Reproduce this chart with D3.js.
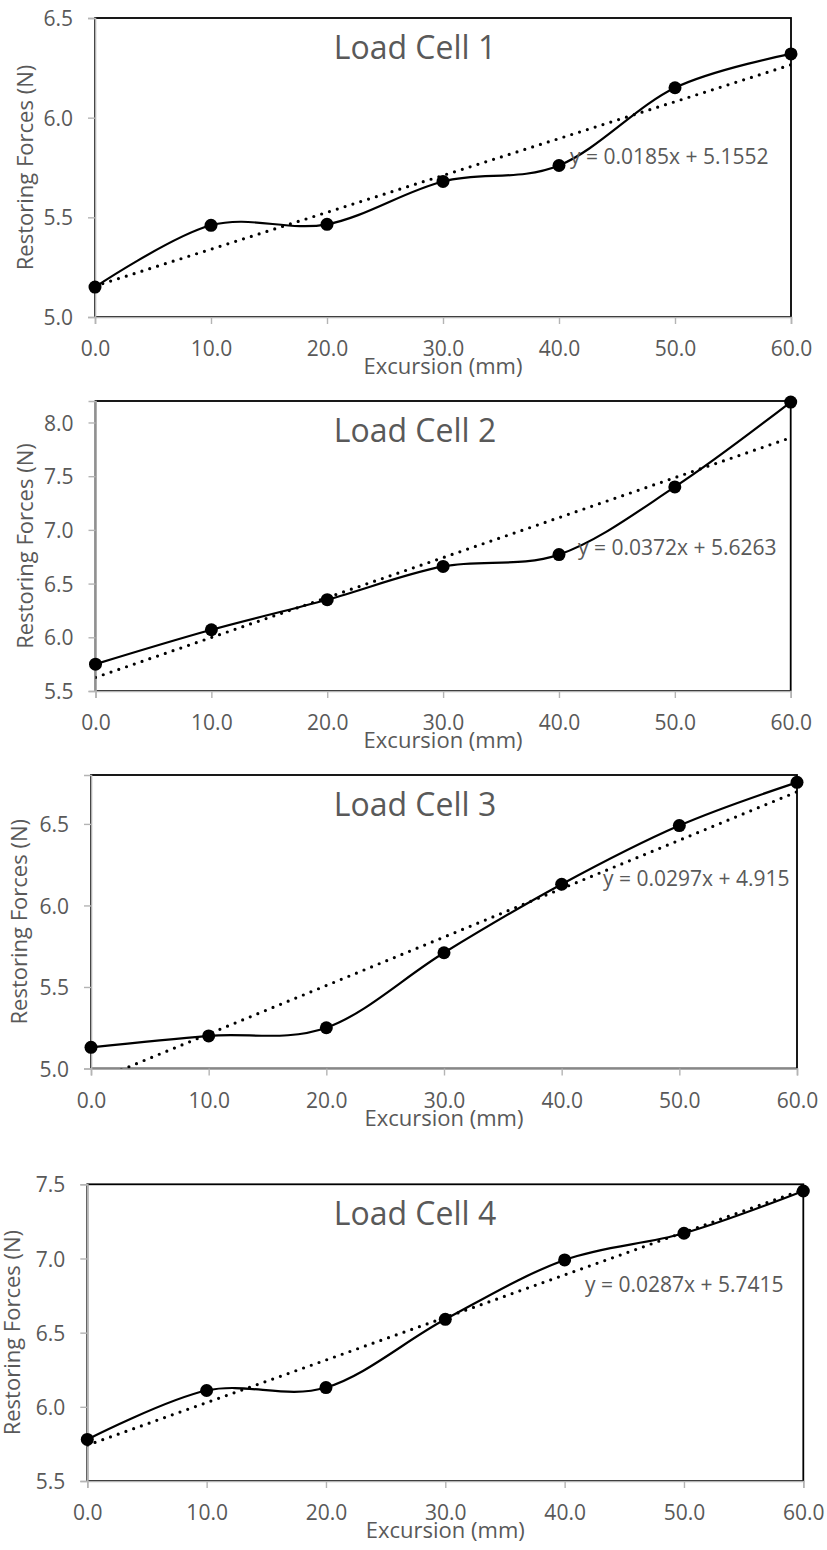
<!DOCTYPE html>
<html>
<head>
<meta charset="utf-8">
<script src="https://cdn.jsdelivr.net/npm/d3@7"></script>
<style>
  body { margin: 0; background: #fff; }
  text { font-family: "Open Sans", sans-serif; fill: #595959; }
</style>
</head>
<body>
<div id="chart"></div>
<script>
// excursion values (mm), shared by all four load cells
let excursion = [0, 10, 20, 30, 40, 50, 60];
let xTicks = [0, 10, 20, 30, 40, 50, 60];

// restoring forces (N)
let cell1 = [5.15, 5.46, 5.465, 5.68, 5.76, 6.15, 6.32];
let cell2 = [5.75, 6.07, 6.35, 6.66, 6.77, 7.40, 8.19];
let cell3 = [5.13, 5.20, 5.25, 5.71, 6.13, 6.49, 6.755];
let cell4 = [5.78, 6.11, 6.13, 6.59, 6.99, 7.17, 7.455];

let titles = ["Load Cell 1", "Load Cell 2", "Load Cell 3", "Load Cell 4"];
// linear trendlines from the labels
let slopes = [0.0185, 0.0372, 0.0297, 0.0287];
let intercepts = [5.1552, 5.6263, 4.915, 5.7415];
let equations = ["y = 0.0185x + 5.1552", "y = 0.0372x + 5.6263", "y = 0.0297x + 4.915", "y = 0.0287x + 5.7415"];

let yDomains = [[5.0, 6.5], [5.5, 8.2], [5.0, 6.8], [5.5, 7.5]];
let yTicks1 = [5.0, 5.5, 6.0, 6.5];
let yTicks2 = [5.5, 6.0, 6.5, 7.0, 7.5, 8.0];
let yTicks3 = [5.0, 5.5, 6.0, 6.5];
let yTicks4 = [5.5, 6.0, 6.5, 7.0, 7.5];

let series = [cell1, cell2, cell3, cell4];
let yTicks = [yTicks1, yTicks2, yTicks3, yTicks4];

// where each panel sits on the page
let layout = [
    {left: 95, right: 791, top: 18, bottom: 317, yTitleX: 33, eqX: 570, eqY: 156},
    {left: 95.5, right: 790.7, top: 401, bottom: 691, yTitleX: 33, eqX: 578, eqY: 547},
    {left: 91, right: 797, top: 775, bottom: 1068.5, yTitleX: 27, eqX: 603, eqY: 878},
    {left: 87.3, right: 803.3, top: 1184.3, bottom: 1481, yTitleX: 20, eqX: 585, eqY: 1284}
];

let svg = d3.select("#chart").append("svg")
    .attr("width", 827)
    .attr("height", 1550);

let fmt = d3.format(".1f");

function panel(i) {
    let L = layout[i];
    let values = series[i];
    let x = d3.scaleLinear().domain([0, 60]).range([L.left, L.right]);
    let y = d3.scaleLinear().domain(yDomains[i]).range([L.bottom, L.top]);
    let g = svg.append("g");

    g.append("clipPath").attr("id", "clip" + i)
        .append("rect")
        .attr("x", L.left).attr("y", L.top)
        .attr("width", L.right - L.left).attr("height", L.bottom - L.top);

    // plot area border
    g.append("rect")
        .attr("x", L.left).attr("y", L.top)
        .attr("width", L.right - L.left).attr("height", L.bottom - L.top)
        .attr("fill", "none").attr("stroke", "#000").attr("stroke-width", 1.8);

    // axes
    let xAxis = g.append("g")
        .attr("transform", "translate(0," + L.bottom + ")")
        .call(d3.axisBottom(x).tickValues(xTicks).tickFormat(fmt).tickSize(7).tickPadding(12));
    let yAxis = g.append("g")
        .attr("transform", "translate(" + L.left + ",0)")
        .call(d3.axisLeft(y).tickValues(yTicks[i]).tickFormat(fmt).tickSize(7).tickPadding(15));
    [xAxis, yAxis].forEach((a) => {
        a.select(".domain").attr("stroke", "#b4b4b4").attr("stroke-width", 1.6);
        a.selectAll(".tick line").attr("stroke", "#b4b4b4").attr("stroke-width", 1.4);
        a.selectAll(".tick text").attr("font-size", 21).attr("fill", "#595959")
            .style("font-family", "'Open Sans', sans-serif");
    });
    xAxis.selectAll(".tick text").attr("dy", 0).attr("y", 39);
    yAxis.selectAll(".tick text").attr("dy", "0.36em");

    // trendline
    let trend = xTicks.filter((d, k) => k == 0 || k == xTicks.length - 1)
        .map((d) => [d, slopes[i] * d + intercepts[i]]);
    g.append("path")
        .datum(trend)
        .attr("clip-path", "url(#clip" + i + ")")
        .attr("d", d3.line().x((d) => x(d[0])).y((d) => y(d[1])))
        .attr("fill", "none").attr("stroke", "#000")
        .attr("stroke-width", 3.2).attr("stroke-linecap", "round")
        .attr("stroke-dasharray", "0 8.2");

    // smoothed data line
    let pts = excursion.map((d, k) => [d, values[k]]);
    g.append("path")
        .datum(pts)
        .attr("d", d3.line().x((d) => x(d[0])).y((d) => y(d[1])).curve(d3.curveCardinal.tension(0)))
        .attr("fill", "none").attr("stroke", "#000").attr("stroke-width", 2.2);

    g.selectAll("circle").data(pts).enter()
        .append("circle")
        .attr("cx", (d) => x(d[0]))
        .attr("cy", (d) => y(d[1]))
        .attr("r", 6.5)
        .attr("fill", "#000");

    // texts
    g.append("text")
        .attr("x", 415).attr("y", L.top + 41)
        .attr("text-anchor", "middle").attr("font-size", 32)
        .text(titles[i]);
    g.append("text")
        .attr("x", L.eqX).attr("y", L.eqY).attr("dy", "0.36em")
        .attr("font-size", 21)
        .text(equations[i]);
    g.append("text")
        .attr("x", (L.left + L.right) / 2).attr("y", L.bottom + 57)
        .attr("text-anchor", "middle").attr("font-size", 22)
        .text("Excursion (mm)");
    g.append("text")
        .attr("transform", "translate(" + L.yTitleX + "," + (L.top + L.bottom) / 2 + ") rotate(-90)")
        .attr("text-anchor", "middle").attr("font-size", 22)
        .text("Restoring Forces (N)");
}

for (let i = 0; i < 4; i++) panel(i);
</script>
</body>
</html>
